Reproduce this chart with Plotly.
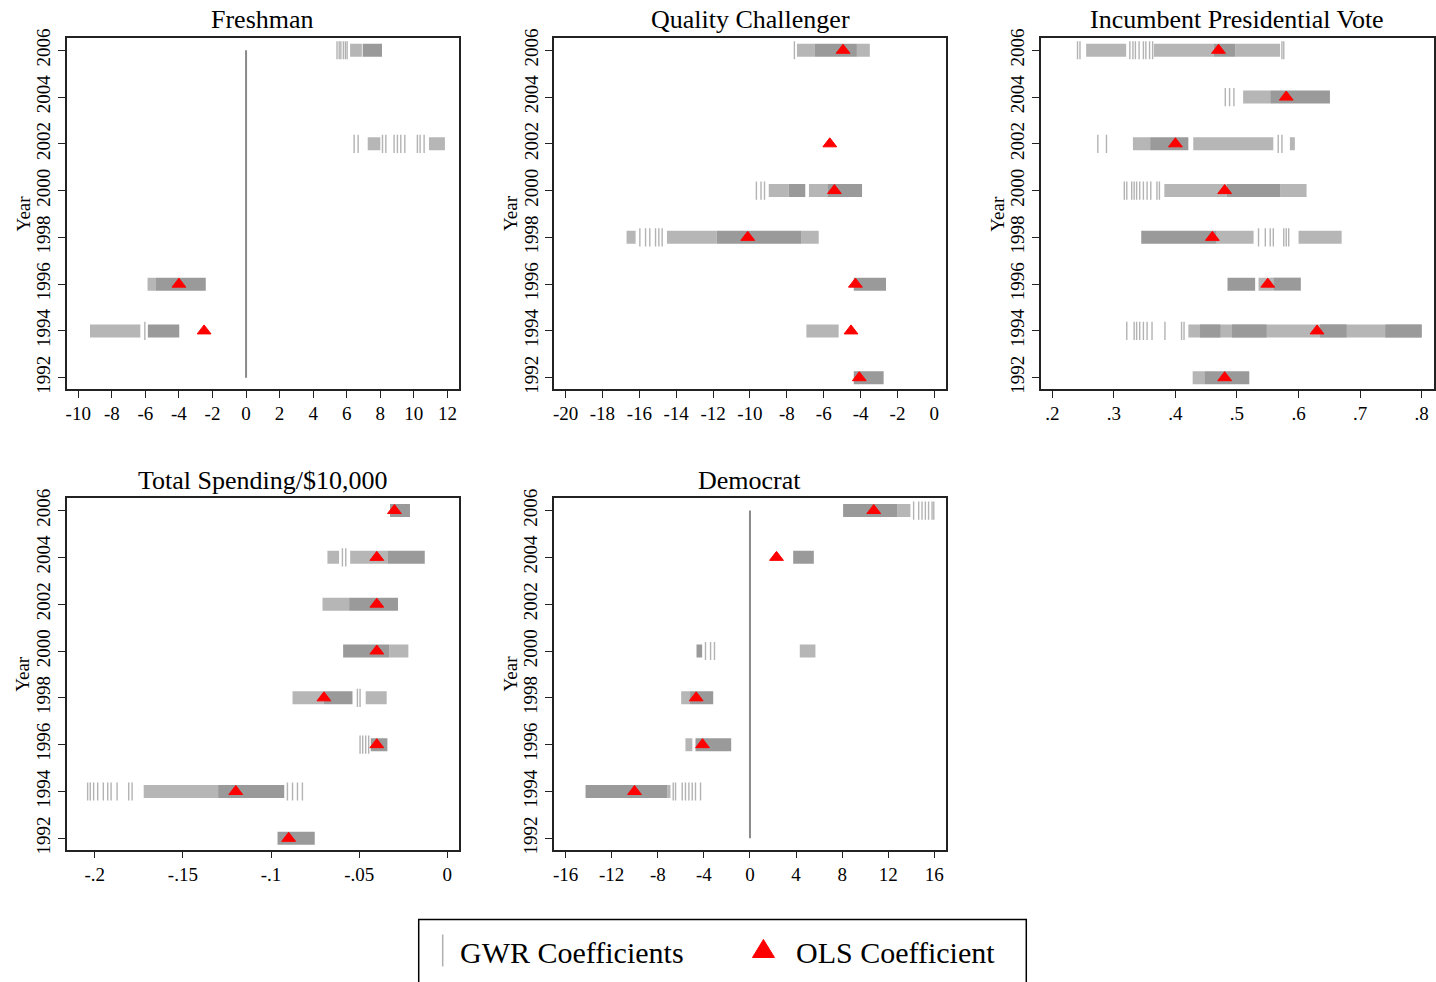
import plotly.graph_objects as go

W, H = 1436, 982
FONT = "Liberation Serif"
# the page is photographed with a slight vertical offset/squeeze; positions below are
# given in target-picture pixels and converted with these two numbers
V_SHIFT, V_SCALE = 7.8, 0.9865

years = [1992, 1994, 1996, 1998, 2000, 2002, 2004, 2006]
year_labels = [str(y) for y in years]

titles = ["Freshman", "Quality Challenger", "Incumbent Presidential Vote",
          "Total Spending/$10,000", "Democrat"]

# ---------------- OLS coefficients (aligned with `years`, None = absent) ----
fresh_ols = [None, -2.5, -4.0, None, None, None, None, None]
qual_ols = [-4.07, -4.52, -4.28, -10.12, -5.42, -5.67, None, -4.95]
pres_ols = [0.48, 0.63, 0.55, 0.46, 0.48, 0.40, 0.58, 0.47]
spend_ols = [-0.09, -0.12, -0.04, -0.07, -0.04, -0.04, -0.04, -0.03]
dem_ols = [None, -10.02, -4.12, -4.67, None, None, 2.3, 10.74]

# ---------------- GWR coefficients: dense ranges (year, from, to) and single ticks (year, value)
fresh_dark = [(2006, 6.95, 8.1), (1996, -5.4, -2.4), (1994, -5.85, -3.98)]
fresh_mid = [(2006, 6.2, 6.9), (1996, -5.87, -5.4), (1994, -9.3, -6.3),
             (2002, 10.9, 11.85), (2002, 7.25, 8.0)]
fresh_ticks = [(2006, 5.42), (2006, 5.55), (2006, 5.65), (2006, 5.8), (2006, 5.92), (2006, 6.02),
               (2002, 6.44), (2002, 6.68), (2002, 8.13), (2002, 8.33), (2002, 8.82), (2002, 9.02),
               (2002, 9.22), (2002, 9.46), (2002, 10.21), (2002, 10.37), (2002, 10.61),
               (1994, -6.03)]

qual_dark = [(2006, -6.5, -4.2), (2000, -7.9, -7.0), (2000, -5.8, -3.92), (1998, -11.8, -7.2),
             (1996, -4.37, -2.62), (1992, -4.37, -2.75)]
qual_mid = [(2006, -7.45, -6.5), (2006, -4.2, -3.5), (2000, -8.98, -7.9), (2000, -6.8, -5.8),
            (1998, -16.69, -16.2), (1998, -14.5, -11.8), (1998, -7.2, -6.27), (1994, -6.94, -5.19)]
qual_ticks = [(2006, -7.59), (2000, -9.65), (2000, -9.4), (2000, -9.21),
              (1998, -15.97), (1998, -15.66), (1998, -15.43), (1998, -15.12),
              (1998, -14.94), (1998, -14.76)]

pres_dark = [(2006, 0.462, 0.497), (2004, 0.554, 0.651), (2002, 0.359, 0.421),
             (2000, 0.483, 0.57), (1998, 0.3445, 0.467), (1996, 0.4846, 0.5295),
             (1996, 0.559, 0.6037), (1994, 0.44, 0.473), (1994, 0.492, 0.548),
             (1994, 0.635, 0.678), (1994, 0.741, 0.8), (1992, 0.447, 0.52)]
pres_mid = [(2006, 0.255, 0.32), (2006, 0.365, 0.462), (2006, 0.497, 0.57),
            (2004, 0.51, 0.554), (2002, 0.331, 0.359), (2002, 0.429, 0.559),
            (2002, 0.586, 0.594), (2000, 0.382, 0.483), (2000, 0.57, 0.613),
            (1998, 0.467, 0.527), (1998, 0.6, 0.67), (1996, 0.535, 0.559),
            (1994, 0.421, 0.8), (1992, 0.428, 0.447)]
pres_ticks = [(2006, 0.241), (2006, 0.245), (2006, 0.326), (2006, 0.331), (2006, 0.335),
              (2006, 0.341), (2006, 0.348), (2006, 0.352), (2006, 0.358), (2006, 0.363),
              (2006, 0.573), (2006, 0.576),
              (2004, 0.481), (2004, 0.488), (2004, 0.495),
              (2002, 0.274), (2002, 0.288), (2002, 0.567), (2002, 0.573),
              (2000, 0.317), (2000, 0.321), (2000, 0.329), (2000, 0.333), (2000, 0.337),
              (2000, 0.342), (2000, 0.348), (2000, 0.354), (2000, 0.360), (2000, 0.370), (2000, 0.374),
              (1998, 0.535), (1998, 0.546), (1998, 0.554), (1998, 0.559), (1998, 0.576),
              (1998, 0.58), (1998, 0.584),
              (1994, 0.321), (1994, 0.333), (1994, 0.337), (1994, 0.342), (1994, 0.348),
              (1994, 0.354), (1994, 0.362), (1994, 0.383), (1994, 0.41), (1994, 0.414)]

spend_dark = [(2006, -0.0325, -0.0212), (2004, -0.034, -0.0128), (2002, -0.0557, -0.028),
              (2000, -0.0591, -0.033), (1998, -0.07, -0.0538), (1996, -0.0434, -0.034),
              (1994, -0.13, -0.0925), (1992, -0.0963, -0.0752)]
spend_mid = [(2004, -0.068, -0.0614), (2004, -0.0551, -0.034), (2002, -0.0708, -0.0557),
             (2000, -0.033, -0.0221), (1998, -0.0878, -0.07), (1998, -0.0463, -0.0344),
             (1994, -0.1722, -0.130)]
spend_ticks = [(2004, -0.0595), (2004, -0.0576),
               (1998, -0.051), (1998, -0.0495),
               (1996, -0.0495), (1996, -0.048), (1996, -0.0463), (1996, -0.0446),
               (1994, -0.204), (1994, -0.2025), (1994, -0.2006), (1994, -0.1983),
               (1994, -0.1951), (1994, -0.1926), (1994, -0.1907), (1994, -0.1873),
               (1994, -0.1807), (1994, -0.1788), (1994, -0.0907), (1994, -0.0878),
               (1994, -0.085), (1994, -0.0822)]

dem_dark = [(2006, 8.08, 12.77), (2004, 3.75, 5.54), (2000, -4.64, -4.15), (1998, -5.2, -3.19),
            (1996, -4.73, -1.63), (1994, -14.27, -7.18)]
dem_mid = [(2006, 12.77, 13.92), (2000, 4.32, 5.68), (1998, -5.97, -5.2), (1996, -5.6, -5.0),
           (1994, -7.18, -6.9)]
dem_ticks = [(2006, 14.2), (2006, 14.64), (2006, 14.93), (2006, 15.22), (2006, 15.5),
             (2006, 15.8), (2006, 15.95),
             (2000, -3.86), (2000, -3.42), (2000, -3.08),
             (1994, -6.66), (1994, -6.46), (1994, -5.88), (1994, -5.6), (1994, -5.3),
             (1994, -5.01), (1994, -4.73), (1994, -4.29)]

# zero reference line present in two panels
zero_line_panels = [0, 4]

# ---------------- tick definitions
fresh_xt = [-10, -8, -6, -4, -2, 0, 2, 4, 6, 8, 10, 12]
qual_xt = [-20, -18, -16, -14, -12, -10, -8, -6, -4, -2, 0]
pres_xt = [0.2, 0.3, 0.4, 0.5, 0.6, 0.7, 0.8]
pres_xl = [".2", ".3", ".4", ".5", ".6", ".7", ".8"]
spend_xt = [-0.2, -0.15, -0.1, -0.05, 0]
spend_xl = ["-.2", "-.15", "-.1", "-.05", "0"]
dem_xt = [-16, -12, -8, -4, 0, 4, 8, 12, 16]

panels = [
    dict(dark=fresh_dark, mid=fresh_mid, ticks=fresh_ticks, ols=fresh_ols,
         xt=fresh_xt, xl=[str(v) for v in fresh_xt], xr=[-10.69, 12.67],
         box=(65.7, 458.0, 36.7, 388.0), ylab_x=22),
    dict(dark=qual_dark, mid=qual_mid, ticks=qual_ticks, ols=qual_ols,
         xt=qual_xt, xl=[str(v) for v in qual_xt], xr=[-20.63, 0.65],
         box=(553.3, 946.0, 36.7, 388.0), ylab_x=510),
    dict(dark=pres_dark, mid=pres_mid, ticks=pres_ticks, ols=pres_ols,
         xt=pres_xt, xl=pres_xl, xr=[0.181, 0.82],
         box=(1040.3, 1434.0, 36.7, 388.0), ylab_x=997),
    dict(dark=spend_dark, mid=spend_mid, ticks=spend_ticks, ols=spend_ols,
         xt=spend_xt, xl=spend_xl, xr=[-0.2159, 0.0066],
         box=(65.7, 458.3, 497.3, 849.0), ylab_x=22),
    dict(dark=dem_dark, mid=dem_mid, ticks=dem_ticks, ols=dem_ols,
         xt=dem_xt, xl=[str(v) for v in dem_xt], xr=[-17.04, 17.04],
         box=(553.0, 946.0, 497.3, 849.0), ylab_x=510),
]

DARK = "#9a9a9a"
MID = "#b6b6b6"
TICK = "#b3b3b3"
BAND = 13


def px(x):
    return x / W


def py(y):
    return 1 - ((y - V_SHIFT) / V_SCALE) / H


def seg_xy(segs):
    xs, ys = [], []
    for yr, a, b in segs:
        xs += [a, b, None]
        ys += [yr, yr, None]
    return xs, ys


fig = go.Figure()
layout = dict(width=W, height=H, margin=dict(l=0, r=0, t=0, b=0, pad=0),
              paper_bgcolor="white", plot_bgcolor="white", showlegend=False,
              annotations=[], shapes=[])

for i, p in enumerate(panels):
    k = "" if i == 0 else str(i + 1)
    xa, ya = "x" + k, "y" + k
    x0, x1, y0, y1 = p["box"]

    if i in zero_line_panels:
        fig.add_trace(go.Scatter(x=[0, 0], y=[years[0], years[-1]], mode="lines",
                                 line=dict(color="#8a8a8a", width=2),
                                 xaxis=xa, yaxis=ya, hoverinfo="skip"))

    for segs, col in ((p["mid"], MID), (p["dark"], DARK)):
        sx, sy = seg_xy(segs)
        fig.add_trace(go.Scatter(x=sx, y=sy, mode="lines",
                                 line=dict(color=col, width=BAND),
                                 xaxis=xa, yaxis=ya, hoverinfo="skip"))
    fig.add_trace(go.Scatter(x=[v for _, v in p["ticks"]], y=[yr for yr, _ in p["ticks"]],
                             mode="markers",
                             marker=dict(symbol="line-ns-open", size=BAND, color=TICK,
                                         line=dict(color=TICK, width=1.4)),
                             xaxis=xa, yaxis=ya, hoverinfo="skip"))
    ox = [v for v in p["ols"] if v is not None]
    oy = [yr for yr, v in zip(years, p["ols"]) if v is not None]
    fig.add_trace(go.Scatter(x=ox, y=oy, mode="markers",
                             marker=dict(symbol="triangle-up", size=12, color="#ff0000",
                                         line=dict(color="#ff0000", width=1)),
                             xaxis=xa, yaxis=ya))

    common = dict(showline=True, mirror=True, linecolor="#222", linewidth=1.5,
                  ticks="outside", ticklen=7, tickwidth=1.3, tickcolor="#222",
                  showgrid=False, zeroline=False,
                  tickfont=dict(family=FONT, size=19, color="black"))
    layout["xaxis" + k] = dict(common, domain=[px(x0), px(x1)], range=p["xr"],
                               tickvals=p["xt"], ticktext=p["xl"], anchor=ya)
    layout["yaxis" + k] = dict(common, domain=[py(y1), py(y0)], range=[1991.52, 2006.53],
                               tickvals=years, ticktext=year_labels, tickangle=-90,
                               anchor=xa)
    # title
    layout["annotations"].append(dict(
        text=titles[i], xref="paper", yref="paper", x=px((x0 + x1) / 2), y=py(y0 - 18),
        xanchor="center", yanchor="middle", showarrow=False,
        font=dict(family=FONT, size=26, color="black")))
    # Year label
    layout["annotations"].append(dict(
        text="Year", xref="paper", yref="paper", x=px(p["ylab_x"]), y=py((y0 + y1) / 2),
        xanchor="center", yanchor="middle", showarrow=False, textangle=-90,
        font=dict(family=FONT, size=19, color="black")))

# ---------------- legend box (bottom edge is cut off by the page, as in the original)
box_path = "M {} {} L {} {} L {} {} L {} {}".format(
    px(418), py(1000), px(418), py(919), px(1026), py(919), px(1026), py(1000))
layout["shapes"].append(dict(type="path", xref="paper", yref="paper", path=box_path,
                             line=dict(color="black", width=1.5)))
layout["shapes"].append(dict(type="line", xref="paper", yref="paper",
                             x0=px(442), x1=px(442), y0=py(934), y1=py(966),
                             line=dict(color="#b0b0b0", width=1.5)))
tri = "M {} {} L {} {} L {} {} Z".format(px(752), py(957), px(774), py(957), px(763), py(939))
layout["shapes"].append(dict(type="path", xref="paper", yref="paper", path=tri,
                             fillcolor="#ff0000", line=dict(color="#ff0000", width=1)))
layout["annotations"].append(dict(text="GWR Coefficients", xref="paper", yref="paper",
                                  x=px(457), y=py(952), xanchor="left", yanchor="middle",
                                  showarrow=False, font=dict(family=FONT, size=30, color="black")))
layout["annotations"].append(dict(text="OLS Coefficient", xref="paper", yref="paper",
                                  x=px(794), y=py(952), xanchor="left", yanchor="middle",
                                  showarrow=False, font=dict(family=FONT, size=30, color="black")))

fig.update_layout(**layout)
fig.write_html(
    "out.html",
    config={"displayModeBar": False},
    post_script=("document.documentElement.style.margin='0px';"
                 "document.documentElement.style.padding='0px';"
                 "document.body.style.margin='0px';document.body.style.padding='0px';"
                 "document.documentElement.style.overflow='hidden';"
                 "document.body.style.overflow='hidden';"))
